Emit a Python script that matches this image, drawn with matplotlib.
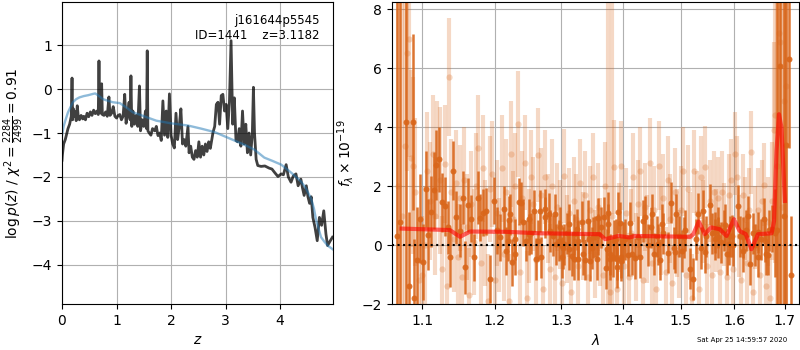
import numpy as np
import matplotlib
matplotlib.use('Agg')
import matplotlib.pyplot as plt
from matplotlib.ticker import ScalarFormatter, NullLocator

# --- p(z) panel ---
pz_z = [0.0, 0.007, 0.03, 0.06, 0.08, 0.11, 0.14, 0.17, 0.184, 0.195, 0.21, 0.23, 0.25, 0.26, 0.28, 0.30,
        0.32, 0.35, 0.38, 0.40, 0.43, 0.46, 0.49, 0.52, 0.55, 0.58, 0.61, 0.64, 0.665, 0.678, 0.69, 0.71,
        0.727, 0.74, 0.77, 0.80, 0.83, 0.86, 0.88, 0.91, 0.94, 0.97, 1.0, 1.03, 1.06, 1.09, 1.12, 1.15,
        1.175, 1.2, 1.23, 1.25, 1.264, 1.28, 1.30, 1.33, 1.36, 1.39, 1.42, 1.44, 1.47, 1.50, 1.53, 1.55,
        1.563, 1.575, 1.60, 1.63, 1.66, 1.70, 1.73, 1.76, 1.79, 1.82, 1.85, 1.88, 1.91, 1.94, 1.97, 2.0,
        2.03, 2.06, 2.09, 2.12, 2.15, 2.18, 2.21, 2.24, 2.27, 2.31, 2.33, 2.36, 2.39, 2.42, 2.45, 2.48,
        2.51, 2.54, 2.57, 2.60, 2.63, 2.66, 2.69, 2.72, 2.77, 2.80, 2.83, 2.86, 2.89, 2.92, 2.95, 2.98,
        3.01, 3.04, 3.07, 3.10, 3.13, 3.16, 3.19, 3.22, 3.25, 3.28, 3.31, 3.34, 3.37, 3.40, 3.43, 3.46,
        3.49, 3.51, 3.53, 3.56, 3.59, 3.65, 3.72, 3.80, 3.85, 3.90, 3.96, 4.02, 4.06, 4.11, 4.15, 4.20,
        4.24, 4.29, 4.33, 4.38, 4.41, 4.44, 4.48, 4.51, 4.54, 4.57, 4.60, 4.64, 4.68, 4.72, 4.76, 4.80,
        4.84, 4.87, 4.92, 4.96]
pz_logp = [-1.62, -1.5, -1.25, -1.15, -1.05, -0.9, -0.8, -0.62, 0.25, -0.7, -0.45, -0.62, -0.52, -0.72, -0.38, -0.65,
           -0.7, -0.6, -0.68, -0.62, -0.7, -0.55, -0.63, -0.52, -0.6, -0.48, -0.56, -0.5, -0.58, 0.64, -0.52, -0.55,
           0.12, -0.58, -0.6, -0.52, -0.62, -0.18, -0.6, -0.55, -0.4, -0.62, -0.66, -0.6, -0.58, -0.7, -0.62, -0.12,
           -0.78, -0.6, -0.3, -0.7, 0.3, -0.85, -0.5, -0.8, -0.6, -0.85, 0.07, -0.95, -0.7, -0.85, -0.5, -0.9,
           0.87, -0.95, -1.0, -1.05, -0.9, -0.95, -0.85, -1.06, -1.0, -1.17, -0.27, -1.05, -0.5, -1.1, -0.11, -1.05,
           -1.25, -1.34, -0.55, -1.15, -0.85, -0.45, -1.25, -1.15, -1.3, -0.85, -1.45, -1.3, -1.55, -1.6, -1.4, -1.55,
           -1.2, -1.55, -1.3, -1.5, -1.25, -1.42, -1.2, -1.35, -0.98, -0.85, -0.35, -0.3, -0.8, -0.15, -0.12, -0.5,
           -0.35, -0.9, -0.3, 1.1, -0.8, -0.2, -1.17, -1.2, -0.9, -1.3, -0.5, -1.25, -0.8, -1.45, -1.0, -1.5,
           -1.0, 0.04, -1.0, -1.6, -1.74, -1.76, -1.75, -1.8, -1.82, -1.9, -1.99, -1.93, -1.95, -1.72, -2.0, -2.12,
           -1.98, -1.93, -2.2, -2.05, -2.25, -2.42, -2.2, -2.45, -2.6, -2.45, -2.92, -3.15, -3.45, -2.92, -3.1, -2.77,
           -3.3, -3.56, -3.45, -3.37]

prior_z = [0, 0.03, 0.06, 0.11, 0.16, 0.2, 0.26, 0.32, 0.4, 0.48, 0.57, 0.61, 0.68, 0.75, 0.85, 0.93, 1.06,
           1.18, 1.3, 1.42, 1.55, 1.73, 2.0, 2.31, 2.55, 2.8, 3.16, 3.35, 3.53, 3.6, 3.71, 3.85, 4.02, 4.2,
           4.38, 4.47, 4.57, 4.62, 4.66, 4.71, 4.75, 4.81, 4.87, 4.97]
prior_logp = [-1.05, -0.85, -0.72, -0.53, -0.4, -0.3, -0.23, -0.19, -0.16, -0.14, -0.11, -0.1, -0.16, -0.23,
              -0.27, -0.3, -0.32, -0.42, -0.53, -0.58, -0.64, -0.72, -0.78, -0.83, -0.9, -0.98, -1.17, -1.27,
              -1.38, -1.45, -1.56, -1.63, -1.72, -1.9, -2.1, -2.25, -2.5, -2.72, -2.98, -3.2, -3.37, -3.47,
              -3.56, -3.65]

# --- spectrum panel ---
dark_wave = [1.0668, 1.0710, 1.0790, 1.0830, 1.0874, 1.0895, 1.0930, 1.0975, 1.1010, 1.1050, 1.1075, 1.1120,
             1.1160, 1.1185, 1.1226, 1.1260, 1.1310, 1.1340, 1.1370, 1.1410, 1.1450, 1.1510, 1.1545, 1.1580,
             1.1620, 1.1660, 1.1700, 1.1760, 1.1790, 1.1830, 1.1870, 1.1930, 1.1990, 1.2030, 1.2070, 1.2135,
             1.2170, 1.2210, 1.2250, 1.2290, 1.2360, 1.2420, 1.2460, 1.2500, 1.2540, 1.2615, 1.2670, 1.2740,
             1.2810, 1.2870, 1.2920, 1.2970, 1.3020, 1.3080, 1.3160, 1.3200, 1.3250, 1.3330, 1.3380, 1.3430,
             1.3480, 1.3565, 1.3590, 1.3630, 1.3710, 1.3740, 1.3780, 1.3830, 1.3880, 1.3950, 1.4000, 1.4080,
             1.4155, 1.4200, 1.4250, 1.4335, 1.4380, 1.4430, 1.4480, 1.4530, 1.4580, 1.4630, 1.4680, 1.4770,
             1.4830, 1.4880, 1.4920, 1.4970, 1.5020, 1.5080, 1.5165, 1.5230, 1.5280, 1.5320, 1.5370, 1.5410,
             1.5460, 1.5530, 1.5580, 1.5630, 1.5680, 1.5740, 1.5800, 1.5860, 1.5920, 1.5980, 1.6060, 1.6110,
             1.6170, 1.6220, 1.6270, 1.6310, 1.6360, 1.6410, 1.6460, 1.6520, 1.6580, 1.6620, 1.6680, 1.6740,
             1.6800, 1.6830, 1.6900, 1.6980, 1.7025, 1.7080, 1.7130]
dark_flux = [0.3, 0.8, 4.18, -1.38, 4.18, -1.78, -0.51, 0.9, -0.58, 1.9, 0.35, 1.13,
             1.86, 2.72, 2.91, 1.45, 1.32, 0.6, -0.42, 2.52, 0.95, 0.48, 1.6, -0.76,
             1.36, 0.9, -0.42, 1.61, 0.93, 1.1, 1.15, -1.15, 1.5, 0.5, 0.26, 1.22,
             -0.2, 0.86, -0.59, 0.2, 1.47, 0.77, 0.15, 0.88, 0.4, -0.47, 1.16, 0.94,
             1.07, 0.32, 0.03, 0.6, -0.1, 0.4, -0.36, -0.47, 0.54, 0.8, -0.5, 0.2,
             -0.1, -0.48, 0.91, 0.6, -0.78, 1.1, -0.48, -0.4, 0.2, 0.75, 0.1, -0.35,
             -0.3, -0.45, 0.28, 0.82, 0.95, 0.0, 0.6, -0.3, 0.3, -0.5, 0.4, -0.26,
             1.44, -0.1, 1.04, 0.3, -0.2, 0.5, -0.8, -1.15, 0.2, 1.07, -0.1, 1.16,
             0.3, 1.37, 0.4, 0.2, 0.6, 0.1, 0.5, -0.3, 0.3, 0.0, 1.33, 0.3,
             -0.2, 0.5, 0.97, -0.65, 0.4, 0.0, -0.4, 0.2, 0.89, -0.3, 0.5, 0.55,
             0.4, 0.5, 6.08, 1.0, 3.4, 6.3, -1.0]
dark_err = [12, 12, 10, 2.5, 3.0, 2.0, 1.8, 1.5, 1.3, 1.3, 1.2, 1.2,
            1.3, 1.2, 1.1, 1.0, 1.0, 0.9, 1.0, 1.0, 0.9, 0.9, 0.9, 0.9,
            0.9, 0.8, 0.8, 0.9, 0.8, 0.8, 0.8, 0.8, 0.8, 0.8, 0.8, 0.8,
            0.8, 0.8, 0.8, 0.7, 0.8, 0.8, 0.7, 0.7, 0.7, 0.7, 0.7, 0.7,
            0.7, 0.7, 0.7, 0.7, 0.7, 0.7, 0.7, 0.7, 0.7, 0.7, 0.7, 0.7,
            0.7, 0.7, 0.7, 0.7, 0.7, 0.7, 0.7, 0.7, 0.7, 0.7, 0.7, 0.7,
            0.7, 0.7, 0.7, 0.7, 0.7, 0.7, 0.7, 0.7, 0.7, 0.7, 0.7, 0.7,
            0.7, 0.7, 0.7, 0.7, 0.7, 0.7, 0.7, 0.7, 0.7, 0.7, 0.7, 0.7,
            0.7, 0.7, 0.7, 0.7, 0.7, 0.7, 0.7, 0.7, 0.7, 0.7, 0.7, 0.7,
            0.7, 0.7, 0.7, 0.7, 0.7, 0.7, 0.7, 0.7, 0.7, 0.7, 0.7, 0.8,
            1.5, 12, 12, 12, 6, 3, 2.0]

# second beam, same grism
dark_wave_b = [1.2190, 1.2222, 1.2300, 1.2377, 1.2507, 1.2576, 1.2639, 1.2692, 1.2745, 1.2826, 1.2906, 1.2959,
               1.3013, 1.3043, 1.3117, 1.3122, 1.3204, 1.3255, 1.3259, 1.3341, 1.3424, 1.3453, 1.3507, 1.3535,
               1.3591, 1.3675, 1.3731, 1.3755, 1.3788, 1.3844, 1.3890, 1.3896, 1.3912, 1.3958, 1.3968, 1.4036,
               1.4121, 1.4280, 1.4494, 1.4599, 1.4669, 1.4897, 1.5058, 1.5443, 1.5630, 1.5697, 1.5819, 1.5897,
               1.5950, 1.6169, 1.6462, 1.6589, 1.6667]
dark_flux_b = [0.15, 1.05, -0.31, 1.44, 0.37, 1.16, 0.15, -0.42, 1.22, 0.48, 1.05, 0.15,
               -0.42, 0.03, -0.14, 0.71, 0.37, -0.48, 0.15, -0.31, 0.82, -0.53, 0.26, 0.28,
               0.37, 0.94, -0.14, 0.7, -0.31, 0.15, -0.76, -0.48, 1.11, -0.53, -0.42, 0.2,
               0.76, -0.42, 1.05, 0.03, 0.71, -0.25, 0.26, -0.25, 0.43, 0.26, 0.69, 0.03,
               0.31, 0.26, 0.43, 0.14, -0.32]
dark_err_b = [0.7] * len(dark_wave_b)

light_wave = [1.0680, 1.0730, 1.0770, 1.0800, 1.0820, 1.0850, 1.0880, 1.0910, 1.0950, 1.0990, 1.1030, 1.1060,
              1.1100, 1.1140, 1.1170, 1.1200, 1.1230, 1.1270, 1.1300, 1.1330, 1.1360, 1.1390, 1.1420, 1.1450,
              1.1480, 1.1510, 1.1540, 1.1570, 1.1600, 1.1630, 1.1660, 1.1700, 1.1730, 1.1760, 1.1800, 1.1830,
              1.1860, 1.1900, 1.1930, 1.1960, 1.2000, 1.2030, 1.2060, 1.2100, 1.2130, 1.2170, 1.2200, 1.2230,
              1.2270, 1.2300, 1.2340, 1.2370, 1.2400, 1.2440, 1.2470, 1.2500, 1.2540, 1.2570, 1.2610, 1.2640,
              1.2680, 1.2710, 1.2750, 1.2790, 1.2820, 1.2860, 1.2900, 1.2930, 1.2970, 1.3010, 1.3040, 1.3080,
              1.3120, 1.3150, 1.3190, 1.3230, 1.3260, 1.3300, 1.3340, 1.3380, 1.3420, 1.3460, 1.3500, 1.3540,
              1.3580, 1.3620, 1.3660, 1.3700, 1.3740, 1.3780, 1.3820, 1.3850, 1.3890, 1.3930, 1.3970, 1.4010,
              1.4050, 1.4090, 1.4130, 1.4170, 1.4210, 1.4250, 1.4290, 1.4330, 1.4370, 1.4410, 1.4450, 1.4490,
              1.4530, 1.4570, 1.4610, 1.4650, 1.4690, 1.4730, 1.4770, 1.4810, 1.4850, 1.4890, 1.4930, 1.4970,
              1.5010, 1.5050, 1.5090, 1.5130, 1.5170, 1.5210, 1.5250, 1.5290, 1.5330, 1.5370, 1.5410, 1.5450,
              1.5490, 1.5530, 1.5570, 1.5610, 1.5650, 1.5690, 1.5730, 1.5770, 1.5810, 1.5850, 1.5890, 1.5930,
              1.5970, 1.6010, 1.6050, 1.6090, 1.6130, 1.6170, 1.6210, 1.6250, 1.6290, 1.6330, 1.6370, 1.6410,
              1.6450, 1.6490, 1.6530, 1.6570, 1.6610, 1.6650, 1.6690, 1.6730, 1.6770, 1.6800, 1.6840, 1.6870,
              1.6910, 1.6950, 1.6990, 1.7020]
light_flux = [2.0, 1.0, 3.36, 6.53, 7.0, 2.95, 2.7, 1.8, -1.2, -1.0, 0.0, 2.5,
              1.5, 3.1, 1.0, 2.9, 2.2, -0.8, 2.75, -1.4, 5.7, 1.8, 0.2, 2.1,
              -0.4, 1.6, -1.1, 2.2, 0.6, -1.7, 1.4, 0.1, 2.0, 3.3, -0.6, 2.6,
              0.4, -1.9, 1.9, 2.4, -1.2, 1.1, 0.0, 2.6, -0.3, 1.8, -1.9, 3.1,
              0.9, 2.0, 4.1, -0.9, 1.6, 2.8, -1.8, 0.3, 2.3, 1.4, -0.5, 3.05,
              1.7, -1.5, 2.3, 0.9, -0.8, 2.0, -1.1, 1.3, 0.7, -1.3, 2.35, 0.2,
              1.1, -1.6, 1.5, 0.9, -0.7, 2.1, 0.3, 1.7, -1.1, 1.2, 2.3, -0.3,
              1.3, 0.1, -1.0, 2.0, 0.0, -1.6, 1.0, 2.65, -1.5, 0.6, 2.7, -0.7,
              1.1, -1.1, 0.4, 2.3, -0.4, 1.4, 2.5, -1.2, 1.3, 0.2, 2.8, -0.6,
              1.2, -1.5, 2.7, 0.5, 1.6, -0.9, 2.2, 0.9, -1.3, 1.8, 0.4, -0.3,
              1.2, 2.5, -1.0, 1.9, 0.3, -1.8, 2.5, 1.1, -1.5, 2.3, 0.8, 2.65,
              -0.7, 1.5, -1.0, 1.8, 0.5, 1.6, -0.9, 1.8, 0.7, -1.1, 1.7, 2.2,
              -0.8, 3.1, 2.3, 0.3, -1.2, 1.7, 0.9, -0.6, 1.2, 3.15, -1.6, 0.6,
              1.2, -1.0, 1.5, 2.05, -1.4, 0.8, -1.8, 1.5, 3.9, 4.4, 2.7, 7.2,
              6.9, 1.3, 4.9, 5.4]
light_err = [12, 12, 6, 4, 4, 3, 3, 2.5, 2.0, 2.0, 2.0, 2.0,
             2.0, 2.0, 2.0, 2.0, 2.5, 1.8, 2.0, 1.8, 2.0, 1.8, 1.8, 1.8,
             1.8, 1.8, 1.8, 1.8, 1.8, 1.6, 1.8, 1.8, 1.8, 1.8, 1.6, 1.8,
             1.8, 1.6, 1.8, 1.8, 1.6, 1.8, 1.6, 1.8, 1.6, 1.8, 1.6, 1.8,
             1.6, 1.8, 1.8, 1.6, 1.6, 1.6, 1.6, 1.6, 1.6, 1.6, 1.6, 1.6,
             1.6, 1.5, 1.6, 1.5, 1.5, 1.6, 1.5, 1.5, 1.5, 1.5, 1.6, 1.5,
             1.5, 1.5, 1.5, 1.5, 1.5, 1.5, 1.5, 1.5, 1.5, 1.5, 1.5, 1.5,
             1.5, 1.5, 1.5, 1.5, 12, 1.5, 12, 1.6, 1.5, 1.5, 1.5, 1.5,
             1.5, 1.5, 1.5, 1.5, 1.5, 1.5, 1.5, 1.5, 1.5, 1.5, 1.5, 1.5,
             1.5, 1.5, 1.5, 1.5, 1.5, 1.5, 1.5, 1.5, 1.5, 1.5, 1.5, 1.5,
             1.5, 1.5, 1.5, 1.5, 1.5, 1.5, 1.4, 1.4, 1.4, 1.4, 1.4, 1.4,
             1.4, 1.4, 1.4, 1.4, 1.4, 1.4, 1.4, 1.4, 1.4, 1.4, 1.4, 1.4,
             1.4, 1.4, 1.4, 1.4, 1.4, 1.4, 1.4, 1.4, 1.4, 1.4, 1.4, 1.4,
             1.4, 1.4, 1.4, 1.4, 1.4, 1.5, 1.5, 2, 3, 5, 12, 12,
             12, 12, 10, 10]

model_wave = [1.073, 1.137, 1.151, 1.165, 1.217, 1.267, 1.361, 1.370, 1.378, 1.392, 1.411, 1.420,
              1.517, 1.523, 1.533, 1.544, 1.556, 1.572, 1.585, 1.599, 1.610, 1.622, 1.633, 1.646,
              1.673, 1.678, 1.683, 1.688, 1.693, 1.700]
model_flux = [0.56, 0.51, 0.28, 0.46, 0.45, 0.40, 0.37, 0.20, 0.24, 0.31, 0.26, 0.31,
              0.28, 0.37, 0.80, 0.37, 0.60, 0.54, 0.31, 0.88, 0.48, 0.37, -0.14, 0.37,
              0.40, 0.82, 3.2, 4.44, 3.99, 1.5]

spec_color = '#d9661a'

fig = plt.figure(figsize=(8, 3.5), dpi=100)

ax = fig.add_axes([0.0775, 0.1314, 0.3388, 0.8629])
ax.plot(pz_z, pz_logp, color='k', alpha=0.75, lw=2)
ax.plot(prior_z, prior_logp, color='tab:blue', alpha=0.5, lw=1.7)
ax.set_xlim(0, 4.97)
ax.set_ylim(-4.89, 1.98)
ax.set_xticks([0, 1, 2, 3, 4])
ax.set_yticks([-4, -3, -2, -1, 0, 1])
ax.grid()
ax.set_xlabel('$z$')
ax.set_ylabel(r'$\log p(z)$ / $\chi^2=\frac{2284}{2499}=0.91$')
ax.text(0.95, 0.94, 'j161644p5545', ha='right', va='center', fontsize=8.5, transform=ax.transAxes)
ax.text(0.95, 0.89, 'ID=1441    z=3.1182', ha='right', va='center', fontsize=8.5, transform=ax.transAxes)

ax2 = fig.add_axes([0.4896, 0.1314, 0.5095, 0.8629])
ax2.errorbar(light_wave, light_flux, yerr=light_err, fmt='o', color=spec_color, alpha=0.25,
             ms=4.5, lw=3, mew=0, zorder=1)
ax2.errorbar(dark_wave, dark_flux, yerr=dark_err, fmt='o', color=spec_color, alpha=0.9,
             ms=4.3, lw=1.8, mew=0, zorder=2)
ax2.errorbar(dark_wave_b, dark_flux_b, yerr=dark_err_b, fmt='o', color=spec_color, alpha=0.9,
             ms=4.3, lw=1.8, mew=0, zorder=2)
ax2.plot(model_wave, model_flux, color='r', lw=3, alpha=0.6, zorder=3)
ax2.axhline(0, color='k', ls=':', lw=1.5, zorder=4)
ax2.set_xscale('log')
ax2.set_xlim(1.0603, 1.7296)
ax2.set_ylim(-2, 8.25)
ax2.set_xticks([1.1, 1.2, 1.3, 1.4, 1.5, 1.6, 1.7])
ax2.xaxis.set_major_formatter(ScalarFormatter())
ax2.xaxis.set_minor_locator(NullLocator())
ax2.set_yticks([-2, 0, 2, 4, 6, 8])
ax2.grid()
ax2.set_axisbelow(True)
ax2.set_xlabel(r'$\lambda$')
ax2.set_ylabel(r'$f_\lambda \times 10^{-19}$')

fig.text(0.984, 0.029, 'Sat Apr 25 14:59:57 2020', ha='right', va='center', fontsize=5)

fig.savefig('out.png', dpi=100)
